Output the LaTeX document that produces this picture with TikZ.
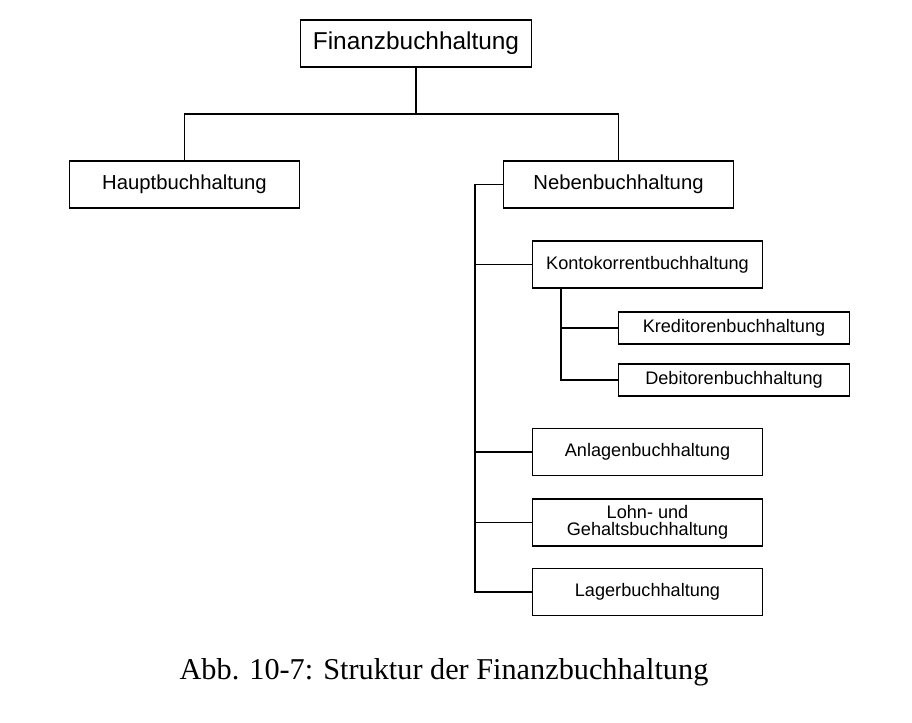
\documentclass[tikz,border=0pt]{standalone}
\usepackage{fontspec}
\setmainfont{Liberation Sans}
\newfontfamily\capfont{Liberation Serif}
\usepackage{tikz}
\usetikzlibrary{positioning,calc}

\begin{document}
\begin{tikzpicture}[x=0.75pt, y=-0.75pt, line width=0.9pt,
  box/.style={draw, inner sep=0pt, minimum width=173pt, minimum height=35.25pt, align=center},
  bigbox/.style={box, font=\fontsize{18.3}{20}\selectfont},
  midbox/.style={box, font=\fontsize{15.2}{17}\selectfont},
  subbox/.style={box, font=\fontsize{13.6}{13.2}\selectfont},
  leafbox/.style={subbox, minimum height=24pt}]
\useasboundingbox (0,0) rectangle (912,723);

% Top level
\node[bigbox] (finanz) at (416,43.5) {Finanzbuchhaltung};
\node[midbox] (haupt) at (184.5,184.5) {Hauptbuchhaltung};
\node[midbox] (neben) at (618.5,184.5) {Nebenbuchhaltung};
\coordinate (fork) at (416,114);
\draw (finanz.south) -- (fork);
\draw (haupt.north) |- (fork) -| (neben.north);

% Nebenbuchhaltung
\node[subbox] (konto) at (647.5,264.5) {Kontokorrentbuchhaltung};
\node[subbox] (anlage) at (647.5,452) {Anlagenbuchhaltung};
\node[subbox] (lohn) at (647.5,522.5) {Lohn- und\\Gehaltsbuchhaltung};
\node[subbox] (lager) at (647.5,592) {Lagerbuchhaltung};
\coordinate (trunk) at (475,184.5);
\draw (neben.west) -- (trunk) |- (lager.west);
\draw (konto.west) -- (konto.west -| trunk);
\draw (anlage.west) -- (anlage.west -| trunk);
\draw (lohn.west) -- (lohn.west -| trunk);

% Kontokorrentbuchhaltung
\node[leafbox] (kredit) at (734,328) {Kreditorenbuchhaltung};
\node[leafbox] (debit) at (734,380) {Debitorenbuchhaltung};
\coordinate (kkfoot) at (561,288);
\draw (kkfoot |- konto.south) |- (debit.west);
\draw (kredit.west) -- (kredit.west -| kkfoot);

% Caption
\node[font=\capfont\fontsize{22.7}{26}\selectfont] (caption) at (444,672)
  {Abb. 10-7: Struktur der Finanzbuchhaltung};
\end{tikzpicture}
\end{document}
